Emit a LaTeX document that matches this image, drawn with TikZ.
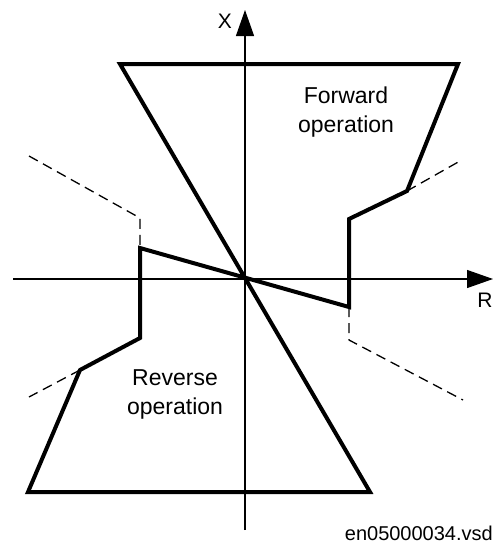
\documentclass[tikz,border=0pt]{standalone}
\usepackage{fontspec}
\setmainfont{Liberation Sans}
\usetikzlibrary{arrows.meta}
\begin{document}
\begin{tikzpicture}[x=1pt,y=-1pt,
  boundary/.style={line width=4pt, line join=miter},
  axisline/.style={line width=1.2pt, -{Triangle[length=26pt,width=18pt]}},
  dashline/.style={line width=1.3pt, dash pattern=on 10pt off 6pt},
  regionlbl/.style={font=\fontsize{23}{29}\selectfont, align=center, inner sep=0pt},
  axislbl/.style={font=\fontsize{21}{24}\selectfont, inner sep=0pt},
  filelbl/.style={font=\fontsize{20}{24}\selectfont, inner sep=0pt}]
\useasboundingbox (0,0) rectangle (494,544);
% coordinates
\coordinate (O) at (245,279);
\coordinate (xb) at (245,530);
\coordinate (xt) at (245,10);
\coordinate (rl) at (13,279);
\coordinate (rr) at (493,279);
\coordinate (p1) at (120,64);
\coordinate (p2) at (458,64);
\coordinate (p3) at (407,191);
\coordinate (p4) at (349,219);
\coordinate (p5) at (349,307);
\coordinate (p6) at (140,248);
\coordinate (p7) at (140,338);
\coordinate (p8) at (80,370);
\coordinate (p9) at (28,492);
\coordinate (p10) at (370,492);
\coordinate (d1) at (29,156);
\coordinate (d2) at (140,218);
\coordinate (d3) at (460,161);
\coordinate (d4) at (349,340);
\coordinate (d5) at (463,400);
\coordinate (d6) at (29,397);
% axes
\draw[axisline] (xb) -- (xt);
\draw[axisline] (rl) -- (rr);
% dashed extensions
\draw[dashline] (d1) -- (d2) -- (p6);
\draw[dashline] (p3) -- (d3);
\draw[dashline] (p5) -- (d4) -- (d5);
\draw[dashline] (p8) -- (d6);
% characteristic
\draw[boundary] (p1) -- (p2) -- (p3) -- (p4) -- (p5) -- (p6) -- (p7) -- (p8) -- (p9) -- (p10) -- cycle;
% labels
\node[axislbl] (xl) at (225,21) {X};
\node[axislbl] (rlbl) at (485,300) {R};
\node[regionlbl] (fwd) at (346,112) {Forward\\operation};
\node[regionlbl] (rev) at (175,394) {Reverse\\operation};
\node[filelbl, anchor=base east] (file) at (493,540) {en05000034.vsd};
\end{tikzpicture}
\end{document}
